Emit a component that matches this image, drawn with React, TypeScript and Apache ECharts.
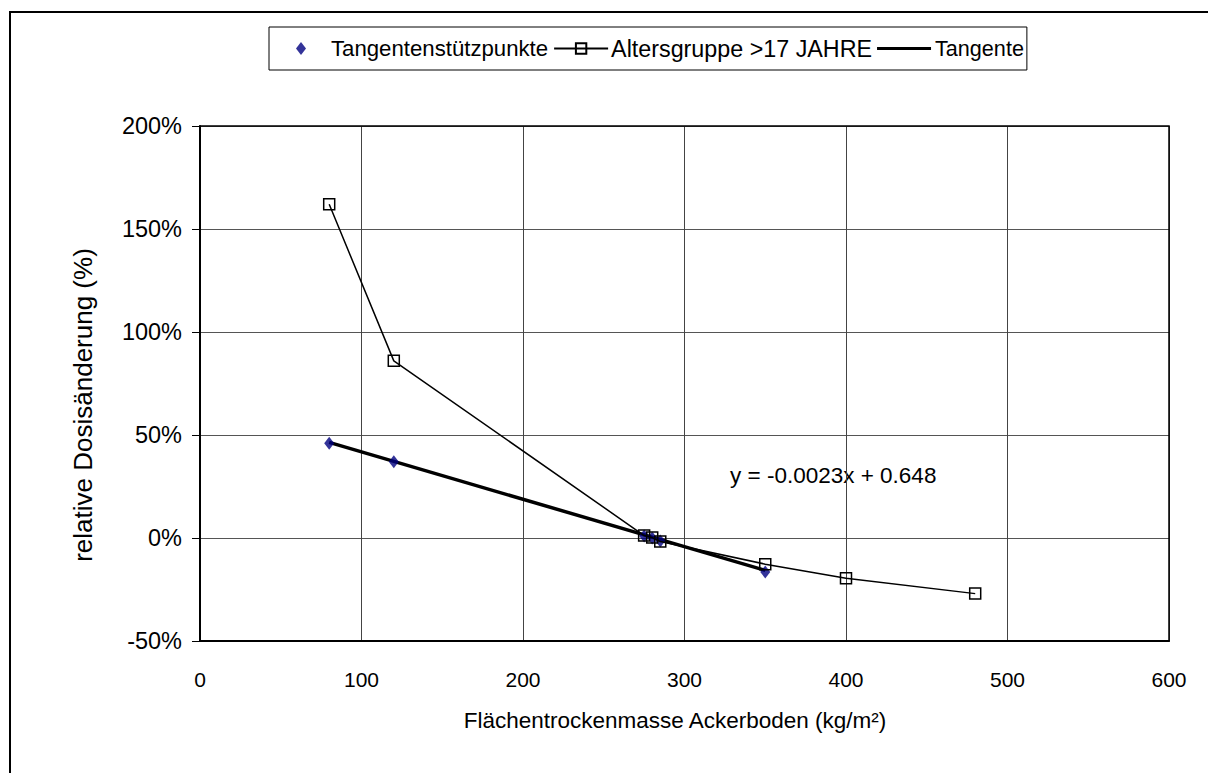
import React, { useEffect, useRef } from "react";
import * as echarts from "echarts";

const altersX = [80, 120, 275, 280, 285, 350, 400, 480];
const altersY = [1.62, 0.86, 0.012, 0.002, -0.017, -0.127, -0.195, -0.27];
const stuetzX = [80, 120, 275, 280, 285, 350];
const stuetzY = [0.46, 0.37, 0.01, 0.0, -0.014, -0.165];
const tangentX = [80, 350];
const tangentY = [0.464, -0.157];
const equationText = "y = -0.0023x + 0.648";
const xTitle = "Flächentrockenmasse Ackerboden (kg/m²)";
const yTitle = "relative Dosisänderung (%)";

const FONT = "'Liberation Sans', Arial, sans-serif";

export default function App() {
  const ref = useRef<HTMLDivElement>(null);
  useEffect(() => {
    document.body.style.margin = "0";
    const chart = echarts.init(ref.current!, null, { renderer: "svg" });
    const zip = (xs: number[], ys: number[]) => xs.map((x, i) => [x, ys[i]]);
    chart.setOption({
      animation: false,
      backgroundColor: "#fff",
      textStyle: { fontFamily: FONT, color: "#000" },
      grid: { left: 200, right: 39, top: 126, bottom: 132 },
      legend: {
        left: 269,
        top: 27,
        borderColor: "#000",
        borderWidth: 1,
        padding: [10, 3, 10, 27],
        itemGap: 5,
        itemWidth: 54,
        itemHeight: 13,
        textStyle: { fontFamily: FONT, fontSize: 22, color: "#000", padding: [0, 0, 0, -2] },
        data: [
          {
            name: "Tangentenstützpunkte",
            icon: "path://M5,0L10,6.5L5,13L0,6.5Z",
            symbolKeepAspect: true,
            textStyle: { fontSize: 22.2 },
          },
          { name: "Altersgruppe >17 JAHRE", textStyle: { fontSize: 23.3 } },
          {
            name: "Tangente",
            icon: "path://M0,0L54,0L54,3.2L0,3.2Z",
            symbolKeepAspect: true,
            textStyle: { fontSize: 21.6, padding: [0, 0, 0, -1] },
          },
        ],
      },
      xAxis: {
        type: "value",
        min: 0,
        max: 600,
        interval: 100,
        axisLine: { onZero: false, lineStyle: { color: "#000", width: 2 } },
        axisTick: { show: false },
        axisLabel: { margin: 28, fontFamily: FONT, fontSize: 21, color: "#000" },
        splitLine: { lineStyle: { color: "#444", width: 1 } },
      },
      yAxis: {
        type: "value",
        min: -0.5,
        max: 2,
        interval: 0.5,
        axisLine: { show: true, onZero: false, lineStyle: { color: "#000", width: 2 } },
        axisTick: { show: true, length: 8, lineStyle: { color: "#000" } },
        axisLabel: {
          margin: 18,
          fontFamily: FONT,
          fontSize: 23.5,
          color: "#000",
          formatter: (v: number) => Math.round(v * 100) + "%",
        },
        splitLine: { lineStyle: { color: "#555", width: 1 } },
      },
      graphic: [
        {
          type: "rect",
          shape: { x: 10, y: 12, width: 1400, height: 1000 },
          style: { fill: "none", stroke: "#000", lineWidth: 2 },
          silent: true,
        },
        {
          type: "rect",
          shape: { x: 200, y: 126, width: 969, height: 515 },
          style: { fill: "none", stroke: "#000", lineWidth: 1.5 },
          silent: true,
          z: 1,
        },
        {
          type: "text",
          x: 675,
          y: 720,
          style: {
            text: xTitle,
            fontFamily: FONT,
            fontSize: 22.5,
            fill: "#000",
            align: "center",
            verticalAlign: "middle",
          },
        },
        {
          type: "text",
          x: 83,
          y: 405,
          rotation: Math.PI / 2,
          style: {
            text: yTitle,
            fontFamily: FONT,
            fontSize: 26,
            fill: "#000",
            align: "center",
            verticalAlign: "middle",
          },
        },
        {
          type: "text",
          x: 730,
          y: 475,
          style: {
            text: equationText,
            fontFamily: FONT,
            fontSize: 22.5,
            fill: "#000",
            verticalAlign: "middle",
            align: "left",
          },
        },
      ],
      series: [
        {
          name: "Tangentenstützpunkte",
          type: "scatter",
          symbol: "diamond",
          symbolSize: [10, 13],
          itemStyle: { color: "#000080" },
          data: zip(stuetzX, stuetzY),
          z: 4,
        },
        {
          name: "Altersgruppe >17 JAHRE",
          type: "line",
          symbol: "rect",
          symbolSize: 11,
          showAllSymbol: true,
          itemStyle: { color: "rgba(0,0,0,0)", borderColor: "#000", borderWidth: 1.5 },
          lineStyle: { color: "#000", width: 1.5 },
          data: zip(altersX, altersY),
          z: 5,
        },
        {
          name: "Tangente",
          type: "line",
          showSymbol: false,
          symbol: "none",
          itemStyle: { color: "#000" },
          lineStyle: { color: "#000", width: 3.5 },
          data: zip(tangentX, tangentY),
          z: 3,
        },
      ],
    });
    return () => chart.dispose();
  }, []);
  return <div ref={ref} style={{ width: 1208, height: 773 }} />;
}
